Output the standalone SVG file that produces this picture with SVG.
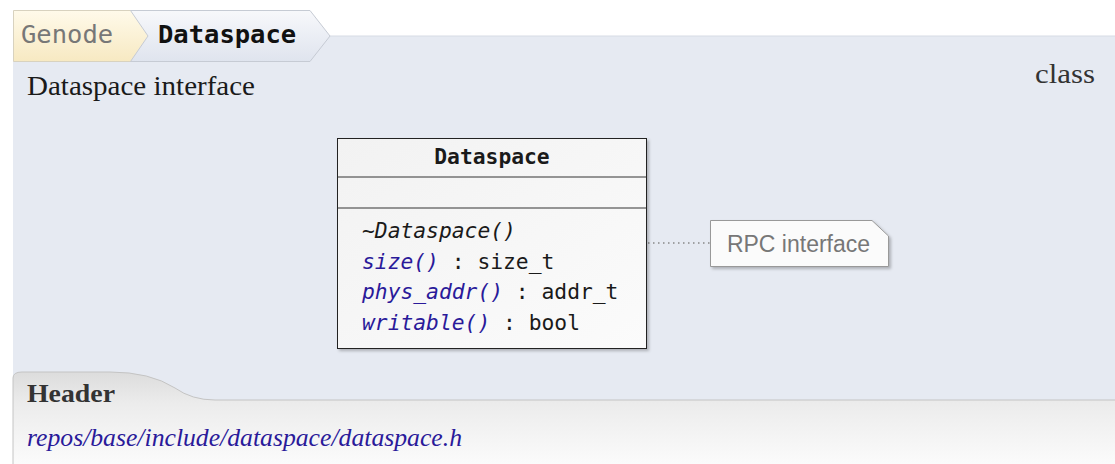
<svg xmlns="http://www.w3.org/2000/svg" width="1115" height="464" viewBox="0 0 1115 464">
<defs>
<linearGradient id="gTab1" x1="0" y1="0" x2="0" y2="1"><stop offset="0" stop-color="#fffaea"/><stop offset="1" stop-color="#f7e9c2"/></linearGradient>
<linearGradient id="gTab2" x1="0" y1="0" x2="0" y2="1"><stop offset="0" stop-color="#f7f8fb"/><stop offset="1" stop-color="#dfe4ee"/></linearGradient>
<linearGradient id="gHdr" x1="0" y1="0" x2="0" y2="1"><stop offset="0" stop-color="#dcdcdc"/><stop offset="0.35" stop-color="#ececec"/><stop offset="1" stop-color="#fbfbfb"/></linearGradient>
<linearGradient id="gBox" x1="0" y1="0" x2="1" y2="1"><stop offset="0" stop-color="#f2f2f2"/><stop offset="1" stop-color="#fbfbfb"/></linearGradient>
<filter id="sh" x="-10%" y="-10%" width="130%" height="130%"><feDropShadow dx="2" dy="2" stdDeviation="1.5" flood-color="#000" flood-opacity="0.25"/></filter>
</defs>
<style>
.mono{font-family:"DejaVu Sans Mono",monospace;font-size:21.3px}
.serif{font-family:"Liberation Serif","Times New Roman",serif}
.link{fill:#2a1a9a;font-style:italic}
.txt{fill:#1a1a1a}
</style>
<rect width="1115" height="464" fill="#ffffff"/>
<g id="panel">
<rect x="13" y="36" width="1102" height="370" fill="#e6eaf2"/>
<line x1="13" y1="36" x2="1115" y2="36" stroke="#d6dbe4" stroke-width="1"/>
</g>
<g id="breadcrumb">
<path d="M13.5 10.5 H145 L163 36 L145 61.5 H13.5 Z" fill="url(#gTab1)" stroke="#d8d2bf" stroke-width="1"/>
<path d="M130.5 10.5 H310 L330 36 L310 61.5 H130.5 L148 36 Z" fill="url(#gTab2)" stroke="#c6cbd4" stroke-width="1"/>
<text x="21" y="43" class="mono" style="font-size:25.5px;fill:#777">Genode</text>
<text x="158" y="43" class="mono" style="font-size:25.5px;font-weight:bold;fill:#111">Dataspace</text>
</g>
<text x="27" y="95" class="serif" style="font-size:27px;fill:#1a1a1a" textLength="228" lengthAdjust="spacingAndGlyphs">Dataspace interface</text>
<text x="1035" y="83" class="serif" style="font-size:28px;fill:#333" textLength="60" lengthAdjust="spacingAndGlyphs">class</text>
<g id="header">
<path d="M13 464 V378 Q13 372 22 372 H110 Q150 372 175 388 Q192 400 215 400 H1115 V464 Z" fill="url(#gHdr)"/>
<path d="M13 464 V378 Q13 372 22 372 H110 Q150 372 175 388 Q192 400 215 400 H1115" fill="none" stroke="#c4c4c4" stroke-width="1"/>
<text x="27" y="402" class="serif" style="font-size:25px;font-weight:bold;fill:#333" textLength="88" lengthAdjust="spacingAndGlyphs">Header</text>
<text x="27" y="446" class="serif link" style="font-size:25px" textLength="435" lengthAdjust="spacingAndGlyphs">repos/base/include/dataspace/dataspace.h</text>
</g>
<g id="connectors">
<line x1="648" y1="243" x2="710" y2="243" stroke="#888" stroke-width="1.5" stroke-dasharray="1.5,3.5"/>
</g>
<g id="node-dataspace">
<rect x="337.5" y="138.5" width="309" height="210" fill="url(#gBox)" stroke="#222" stroke-width="1" filter="url(#sh)"/>
<line x1="337.5" y1="177" x2="646.5" y2="177" stroke="#333" stroke-width="1"/>
<line x1="337.5" y1="208" x2="646.5" y2="208" stroke="#333" stroke-width="1"/>
<text x="492" y="164" class="mono txt" text-anchor="middle" style="font-weight:bold">Dataspace</text>
<text x="362" y="238" class="mono txt" style="font-style:italic">~Dataspace()</text>
<text x="362" y="269" class="mono"><tspan class="link">size()</tspan><tspan class="txt"> : size_t</tspan></text>
<text x="362" y="299" class="mono"><tspan class="link">phys_addr()</tspan><tspan class="txt"> : addr_t</tspan></text>
<text x="362" y="330" class="mono"><tspan class="link">writable()</tspan><tspan class="txt"> : bool</tspan></text>
</g>
<g id="node-note">
<path d="M710.5 220.5 H872 L888.5 236 V266.5 H710.5 Z" fill="#fbfbfb" stroke="#999" stroke-width="1" filter="url(#sh)"/>
<text x="798.5" y="252" text-anchor="middle" style="font-family:'Liberation Sans',Arial,sans-serif;font-size:23px;fill:#777">RPC interface</text>
</g>
</svg>
